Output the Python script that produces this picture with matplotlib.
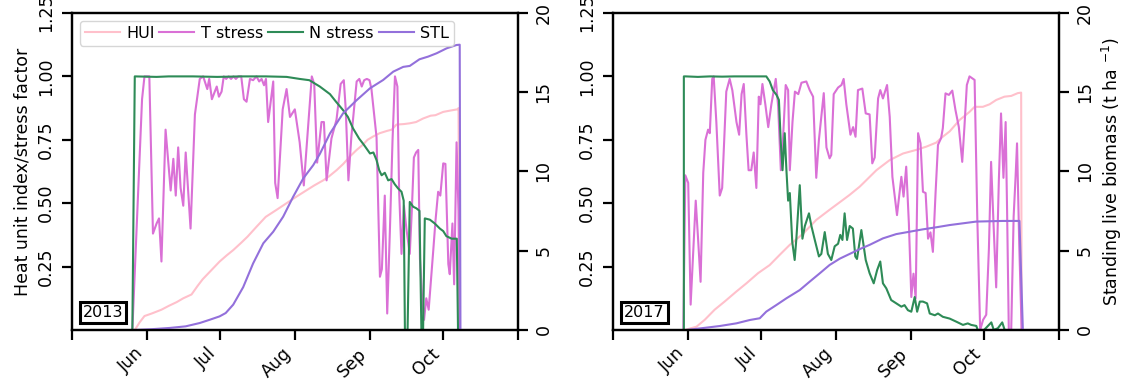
import numpy as np
import pandas as pd
import matplotlib
matplotlib.use('Agg')
import matplotlib.pyplot as plt

# days since 1 May and values for each year
t13_day = [25, 29, 30, 32, 33.5, 35, 36, 37, 38.7, 40.8, 41.9, 42.9, 43.9, 44.9, 46, 47, 49, 50.8,
           52.8, 54.2, 55.9, 56.7, 57.8, 59.8, 60.7, 61.8, 62.7, 63.7, 64.7, 65.7, 66.7, 67.7, 68.7,
           69.9, 71, 72.1, 73.5, 74.8, 76.2, 77.3, 78.3, 79.3, 80.1, 81, 83.1, 83.9, 84.9, 87, 88.6,
           90, 92, 94, 95.7, 99, 100, 101.2, 103, 104, 105.1, 107.1, 109.2, 110.9, 112.2, 113, 114.1,
           115.3, 117.5, 118.6, 119.6, 120.6, 121.7, 122.8, 123.6, 125.7, 127.1, 127.9, 129.1, 130.1,
           131.2, 132.3, 133.3, 134.3, 135, 136, 137, 138, 139.4, 140.2, 141.1, 142, 142.9, 143.6,
           144.5, 145.3, 146.2, 147.2, 149.1, 150, 151.1, 152, 153.2, 154.1, 155.3, 155.9, 157,
           157.7, 158.7, 159.5, 160]
t13_val = [0.0, 0.91, 1.0, 1.0, 0.38, 0.42, 0.44, 0.27, 0.79, 0.55, 0.675, 0.53, 0.72, 0.56, 0.49,
           0.70, 0.40, 0.85, 0.99, 1.0, 0.95, 0.99, 0.91, 0.96, 0.92, 0.94, 1.0, 0.99, 1.0, 0.99, 1.0,
           0.99, 1.0, 1.0, 0.91, 0.90, 0.99, 0.985, 1.0, 0.98, 0.99, 0.965, 0.99, 0.82, 0.98, 0.58,
           0.52, 0.87, 0.95, 0.84, 0.87, 0.74, 0.57, 1.0, 0.97, 0.66, 0.82, 0.82, 0.59, 0.755, 0.83,
           0.97, 0.985, 0.87, 0.59, 0.76, 0.98, 0.99, 0.96, 0.985, 0.99, 0.985, 0.95, 0.76, 0.21,
           0.24, 0.53, 0.065, 0.39, 0.75, 1.0, 0.96, 0.55, 0.30, 0.49, 0.40, 0.30, 0.46, 0.68, 0.70,
           0.71, 0.28, 0.13, 0.04, 0.125, 0.08, 0.315, 0.43, 0.545, 0.53, 0.657, 0.655, 0.26, 0.22,
           0.42, 0.18, 0.74, 0.47, 0.0]

n13_day = [25, 26, 35, 40, 50, 60, 70, 80, 88.6, 94, 98, 102.3, 106.5, 109, 111.9, 113.9, 116,
           118.5, 120.5, 123, 124.4, 125.7, 126.8, 127.8, 129.1, 130.5, 131.9, 133.2, 134.6, 136,
           136.9, 137.4, 138.5, 139.4, 140.8, 142.1, 143.4, 144.2, 144.9, 145.6, 147.7, 149.7,
           151.8, 153.2, 154.5, 156.7, 158.8, 159.3]
n13_val = [0.0, 1.0, 0.998, 1.0, 1.0, 0.998, 1.0, 1.0, 0.998, 0.99, 0.985, 0.96, 0.93, 0.90, 0.867,
           0.84, 0.795, 0.755, 0.73, 0.696, 0.70, 0.67, 0.63, 0.61, 0.62, 0.59, 0.595, 0.575, 0.558,
           0.545, 0.51, 0.0, 0.0, 0.505, 0.486, 0.48, 0.47, 0.0, 0.0, 0.44, 0.435, 0.42, 0.40, 0.39,
           0.37, 0.36, 0.36, 0.0]

hui13_day = [26, 28, 30, 33, 37, 40, 43.3, 46, 49.4, 52, 54, 57, 61, 64, 66.6, 70, 72.5, 76.2, 80,
             84.5, 88.6, 92.7, 97, 100, 103.7, 106, 109.2, 112, 114.7, 117.5, 120, 122, 124.3, 127,
             130, 132, 133.9, 137, 139.4, 142, 144.9, 148, 150, 153.2, 156, 159, 159.5, 160]
hui13_val = [0.0, 0.03, 0.055, 0.065, 0.08, 0.095, 0.11, 0.125, 0.14, 0.175, 0.2, 0.23, 0.27, 0.295,
             0.315, 0.345, 0.368, 0.407, 0.446, 0.474, 0.5, 0.526, 0.552, 0.57, 0.59, 0.605, 0.63,
             0.655, 0.684, 0.71, 0.73, 0.75, 0.763, 0.776, 0.785, 0.79, 0.81, 0.812, 0.815, 0.82,
             0.834, 0.845, 0.847, 0.86, 0.865, 0.87, 0.875, 0.0]

stl13_day = [26, 33, 40.5, 47, 52.8, 57, 61, 63.5, 66.6, 70.7, 74.8, 79, 83.1, 87.2, 91.3, 95.5,
             99.6, 102.3, 106.5, 111.9, 117.5, 123, 128.4, 132.6, 136.7, 139.4, 143.4, 147, 150.5,
             154.6, 158.7, 160, 160.3]
stl13_val = [0.0, 0.05, 0.13, 0.23, 0.44, 0.65, 0.86, 1.07, 1.6, 2.7, 4.2, 5.47, 6.2, 7.15, 8.4,
             9.57, 10.4, 11.1, 12.4, 13.67, 14.5, 15.25, 15.77, 16.3, 16.6, 16.66, 17.08, 17.25,
             17.46, 17.77, 17.98, 18.0, 0.0]

t17_day = [29, 29.8, 31, 32, 34.1, 35, 36.1, 37.2, 38.1, 39.2, 39.9, 40.9, 41.5, 42.6, 44, 45, 46.7,
           48.1, 49.2, 50.9, 52, 53, 53.9, 55, 55.9, 57, 58, 59.1, 60.1, 60.8, 61.6, 62.8, 64, 65.3,
           67.1, 68.1, 69.2, 70.1, 71.2, 72.2, 72.9, 74, 75, 76.4, 77.7, 79.7, 81.1, 82.5, 83.8,
           84.9, 86.9, 88, 89.3, 90, 91, 92.8, 94.2, 95.1, 96.2, 97.9, 99, 100, 101, 102.8, 104.2,
           105.8, 106.9, 107.9, 109.3, 110.2, 111.3, 113, 114.1, 115.2, 117.1, 118.9, 119.8, 120.9,
           122, 123, 123.9, 124.8, 125.8, 126.8, 127.8, 128.9, 129.9, 130.9, 131.9, 133, 134, 135.3,
           136, 137.1, 138.5, 139.9, 141.2, 142.6, 144, 144.9, 145.9, 147, 149.1, 150.2, 151.4,
           152.6, 153.9, 155, 155.9, 156.9, 158, 159.1, 160, 161, 161.9, 162.5, 163.2, 164.2, 165.2,
           166, 166.6, 167.5, 168.5]
t17_val = [0.0, 0.61, 0.58, 0.10, 0.51, 0.37, 0.19, 0.62, 0.75, 0.79, 0.776, 0.99, 1.0, 0.82, 0.53,
           0.56, 0.94, 0.99, 0.945, 0.82, 0.77, 0.93, 0.97, 0.77, 0.63, 0.63, 0.70, 0.56, 0.92, 0.89,
           0.97, 0.89, 0.80, 0.89, 0.99, 0.88, 0.63, 0.755, 0.966, 0.946, 0.63, 0.82, 0.94, 0.93,
           0.975, 0.98, 0.946, 0.92, 0.60, 0.75, 0.934, 0.72, 0.677, 0.69, 0.93, 0.956, 0.966, 0.99,
           0.89, 0.77, 0.80, 0.762, 0.946, 0.952, 0.854, 0.85, 0.657, 0.68, 0.913, 0.946, 0.913,
           0.966, 0.84, 0.604, 0.453, 0.604, 0.526, 0.644, 0.42, 0.13, 0.222, 0.125, 0.776, 0.736,
           0.545, 0.54, 0.36, 0.385, 0.308, 0.54, 0.73, 0.757, 0.796, 0.933, 0.927, 0.944, 0.868,
           0.80, 0.663, 0.80, 0.966, 1.0, 0.986, 0.447, 0.0, 0.04, 0.06, 0.32, 0.663, 0.42, 0.168,
           0.59, 0.854, 0.60, 0.82, 0.47, 0.0, 0.0, 0.447, 0.604, 0.736, 0.34, 0.0]

n17_day = [29.2, 29.2, 30, 35, 40, 45, 50, 55, 60, 63.2, 64.6, 65.9, 67.4, 68.4, 69.2, 69.9, 70.8,
           71.5, 72.2, 72.9, 73.9, 74.9, 75.6, 77, 78.1, 79.1, 80.8, 81.8, 83.2, 84.9, 85.9, 87.3,
           88.6, 90, 91.4, 92.8, 93.7, 94.6, 95.5, 96.5, 97.6, 98.9, 99.9, 100.6, 102.4, 104.2,
           105.8, 107.5, 108.9, 110.2, 111.3, 112.7, 114.7, 116.8, 118.9, 120.2, 121.6, 123, 124.4,
           125.4, 126.5, 127.8, 129.5, 130.6, 132.7, 134, 136, 138.8, 141.5, 144.3, 146.3, 147.7,
           149.8, 150.4, 153, 156, 157, 158.7, 160.5, 161.5, 168.5]
n17_val = [0.0, 1.0, 1.0, 0.998, 1.0, 0.999, 1.0, 1.0, 1.0, 1.0, 0.98, 0.946, 0.927, 0.907, 0.736,
           0.63, 0.776, 0.63, 0.51, 0.54, 0.348, 0.276, 0.36, 0.571, 0.36, 0.41, 0.46, 0.41, 0.355,
           0.29, 0.30, 0.386, 0.30, 0.276, 0.33, 0.34, 0.375, 0.355, 0.46, 0.355, 0.41, 0.40, 0.29,
           0.28, 0.394, 0.276, 0.224, 0.184, 0.236, 0.27, 0.184, 0.164, 0.118, 0.105, 0.092, 0.098,
           0.078, 0.072, 0.13, 0.072, 0.112, 0.112, 0.105, 0.065, 0.058, 0.065, 0.052, 0.045, 0.033,
           0.02, 0.026, 0.02, 0.016, 0.0, 0.0, 0.03, 0.0, 0.007, 0.03, 0.0, 0.0]

hui17_day = [29.6, 34.4, 37.8, 41.9, 46, 50.9, 55, 59.8, 64.6, 68.7, 72.8, 78.4, 83.8, 89.3, 94.8,
             97.6, 101.7, 103.1, 108.6, 114.1, 119.6, 125, 129.2, 133.3, 135.3, 138.8, 142.9, 147,
             149.1, 152.5, 155.3, 158, 161.4, 164.2, 166.9, 168.3, 168.5]
hui17_val = [0.0, 0.013, 0.04, 0.08, 0.112, 0.152, 0.184, 0.224, 0.256, 0.296, 0.335, 0.38, 0.434,
             0.474, 0.513, 0.533, 0.565, 0.578, 0.63, 0.67, 0.696, 0.71, 0.723, 0.739, 0.757, 0.783,
             0.828, 0.86, 0.88, 0.88, 0.89, 0.907, 0.92, 0.923, 0.934, 0.936, 0.0]

stl17_day = [30.3, 37, 44, 50.9, 56.4, 60.5, 63.2, 67.4, 71.5, 77, 81.1, 85.2, 89.3, 93.5, 97.6,
             101.7, 105.8, 111.3, 116.8, 122.3, 127.8, 133.3, 138.8, 144.3, 149.8, 155.3, 160.7,
             167.6, 169]
stl17_val = [0.0, 0.12, 0.25, 0.42, 0.63, 0.74, 1.16, 1.58, 2.0, 2.52, 3.05, 3.57, 4.1, 4.5, 4.8,
             5.1, 5.37, 5.78, 6.05, 6.2, 6.35, 6.48, 6.62, 6.73, 6.84, 6.86, 6.88, 6.88, 0.0]

years = [2013, 2017]
month_labels = ['', 'Jun', 'Jul', 'Aug', 'Sep', 'Oct', '']
left_ticks = [0.25, 0.5, 0.75, 1.0, 1.25]
right_ticks = [0, 5, 10, 15, 20]

series = {
    2013: (hui13_day, hui13_val, t13_day, t13_val, n13_day, n13_val, stl13_day, stl13_val),
    2017: (hui17_day, hui17_val, t17_day, t17_val, n17_day, n17_val, stl17_day, stl17_val),
}

plt.rcParams['font.size'] = 12.5
plt.rcParams['axes.linewidth'] = 1.6
for ax_name in ['xtick', 'ytick']:
    plt.rcParams[ax_name + '.major.width'] = 1.6
    plt.rcParams[ax_name + '.major.size'] = 7
plt.rcParams['ytick.major.pad'] = 5


def to_dates(year, days):
    return pd.Timestamp(f'{year}-05-01') + pd.to_timedelta(np.array(days), unit='D')


fig, axes = plt.subplots(1, 2, figsize=(11.26, 3.81), dpi=100)
fig.subplots_adjust(left=0.0637, right=0.9407, bottom=0.1339, top=0.9659, wspace=0.2132)

for i, (ax, year) in enumerate(zip(axes, years)):
    hd, hv, td, tv, nd, nv, sd, sv = series[year]
    l1, = ax.plot(to_dates(year, hd), hv, color='pink', lw=1.5, label='HUI')
    l2, = ax.plot(to_dates(year, td), tv, color='orchid', lw=1.5, label='T stress')
    l3, = ax.plot(to_dates(year, nd), nv, color='seagreen', lw=1.5, label='N stress')
    ax2 = ax.twinx()
    l4, = ax2.plot(to_dates(year, sd), sv, color='mediumpurple', lw=1.5, label='STL')

    months = pd.date_range(f'{year}-05-01', f'{year}-11-01', freq='MS')
    ax.set_xlim(months[0], months[-1])
    ax.set_xticks(months)
    ax.set_xticklabels(month_labels, rotation=45, ha='right')

    ax.set_ylim(0, 1.25)
    ax.set_yticks(left_ticks)
    ax.set_yticklabels([f'{t:.2f}' for t in left_ticks], rotation=90, va='center')
    ax2.set_ylim(0, 20)
    ax2.set_yticks(right_ticks)
    ax2.set_yticklabels([str(t) for t in right_ticks], rotation=90, va='center')

    ax.text(0.025, 0.04, str(year), transform=ax.transAxes, fontsize=11.5,
            bbox=dict(boxstyle='square,pad=0.18', facecolor='white', edgecolor='black', linewidth=2.2))

    if i == 0:
        ax.set_ylabel('Heat unit index/stress factor')
        ax2.legend(handles=[l1, l2, l3, l4], loc='upper left', ncol=4, fontsize=11.5,
                   handlelength=2.2, handletextpad=0.4, columnspacing=0.3, borderpad=0.3)
    else:
        ax2.set_ylabel('Standing live biomass (t ha $^{-1}$)')

fig.savefig('out.png', dpi=100)
